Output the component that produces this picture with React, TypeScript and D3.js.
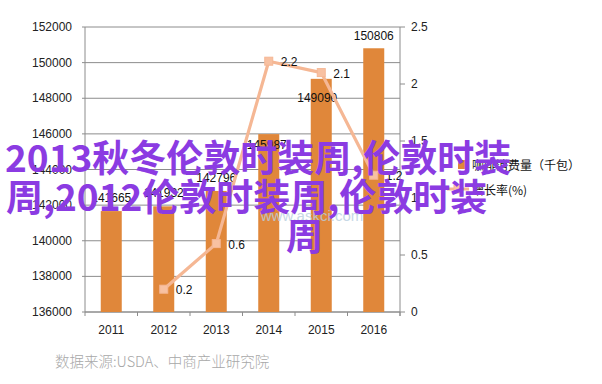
import React from 'react';
import * as d3 from 'd3';

const years = ['2011', '2012', '2013', '2014', '2015', '2016'];
const consumption = [141665, 141932, 142796, 145987, 149090, 150806];
const growth: (number | null)[] = [null, 0.2, 0.6, 2.2, 2.1, 1.2];
const leftTicks = [136000, 138000, 140000, 142000, 144000, 146000, 148000, 150000, 152000];
const rightTicks = [0, 0.5, 1, 1.5, 2, 2.5];
const legendLabels = ['咖啡消费量（千包）', '增长率(%)'];
const sourceText = '数据来源:USDA、中商产业研究院';
const watermarkText = 'www.askci.com';
const overlayLines = ['2013秋冬伦敦时装周,伦敦时装', '周,2012伦敦时装周,伦敦时装', '周'];

const W = 602;
const H = 384;
const plot = { left: 85, right: 400, top: 27, bottom: 312 };
const BAR = '#E0873A';
const LINE = '#F5B794';
const MARK = '#F8C1A2';
const GRID = '#8c8c8c';
const FONT = '"Liberation Sans", Arial, sans-serif';
const CJK = '"Noto Sans CJK SC", sans-serif';

export default function App() {
  const x = d3.scaleBand<string>().domain(years).range([plot.left, plot.right]).paddingInner(0.6).paddingOuter(0.3);
  const step = x.step();
  const yL = d3.scaleLinear().domain([136000, 152000]).range([plot.bottom, plot.top]);
  const yR = d3.scaleLinear().domain([0, 2.5]).range([plot.bottom, plot.top]);
  const cx = (y: string) => (x(y) as number) + x.bandwidth() / 2;

  const linePts = years
    .map((yr, i) => ({ yr, v: growth[i] }))
    .filter((d) => d.v !== null) as { yr: string; v: number }[];
  const lineGen = d3
    .line<{ yr: string; v: number }>()
    .x((d) => cx(d.yr))
    .y((d) => yR(d.v));

  // per-label vertical placement relative to bar top (label centre)
  const labelDy = [-13, -13, -13, 11, 19, -12];
  const labelDx = [0, 0, 0, -2, -4, 0];

  const boundaries = d3.range(years.length + 1).map((i) => plot.left + i * step);

  return (
    <svg width={W} height={H} style={{ position: 'absolute', left: 0, top: 0, background: '#fff' }}>
      <rect x={0} y={0} width={W} height={H} fill="#fff" />
      {/* gridlines */}
      {leftTicks.map((t) => (
        <line key={t} x1={plot.left - 3} x2={plot.right} y1={yL(t)} y2={yL(t)} stroke={GRID} strokeWidth={1} />
      ))}
      {/* axes */}
      <line x1={plot.left} x2={plot.left} y1={plot.top} y2={plot.bottom} stroke={GRID} />
      <line x1={plot.right} x2={plot.right} y1={plot.top} y2={plot.bottom + 4} stroke={GRID} />
      <line x1={plot.left} x2={plot.right} y1={plot.bottom} y2={plot.bottom} stroke={GRID} />
      {boundaries.map((b, i) => (
        <line key={i} x1={b} x2={b} y1={plot.bottom} y2={plot.bottom + 4} stroke={GRID} />
      ))}
      {rightTicks.map((t) => (
        <line key={t} x1={plot.right} x2={plot.right + 5} y1={yR(t)} y2={yR(t)} stroke={GRID} />
      ))}
      {/* left tick labels */}
      {leftTicks.map((t) => (
        <text key={t} x={72} y={yL(t)} textAnchor="end" dominantBaseline="central" fontFamily={FONT} fontSize={12} fill="#222">
          {t}
        </text>
      ))}
      {rightTicks.map((t) => (
        <text key={t} x={411} y={yR(t)} textAnchor="start" dominantBaseline="central" fontFamily={FONT} fontSize={12} fill="#222">
          {String(t)}
        </text>
      ))}
      {years.map((yr) => (
        <text key={yr} x={cx(yr)} y={334} textAnchor="middle" fontFamily={FONT} fontSize={12} fill="#222">
          {yr}
        </text>
      ))}
      {/* bars */}
      {years.map((yr, i) => (
        <rect key={yr} x={x(yr)} y={yL(consumption[i])} width={x.bandwidth()} height={plot.bottom - yL(consumption[i])} fill={BAR} />
      ))}
      {/* watermark */}
      <text x={312} y={221} textAnchor="middle" fontFamily={FONT} fontSize={15} fill="#b9cfe0" opacity={0.8}>
        {watermarkText}
      </text>
      {/* bar labels */}
      {years.map((yr, i) => (
        <text
          key={yr}
          x={cx(yr) + labelDx[i]}
          y={yL(consumption[i]) + labelDy[i]}
          textAnchor="middle"
          dominantBaseline="central"
          fontFamily={FONT}
          fontSize={12}
          fill="#111"
        >
          {consumption[i]}
        </text>
      ))}
      {/* line */}
      <path d={lineGen(linePts) || ''} fill="none" stroke={LINE} strokeWidth={3.2} strokeLinejoin="round" />
      {linePts.map((d) => (
        <rect key={d.yr} x={cx(d.yr) - 4} y={yR(d.v) - 4} width={8} height={8} fill={MARK} stroke={LINE} strokeWidth={1} />
      ))}
      {linePts.map((d) => (
        <text key={d.yr} x={cx(d.yr) + 12} y={yR(d.v) + 1} dominantBaseline="central" fontFamily={FONT} fontSize={12} fill="#111">
          {String(d.v)}
        </text>
      ))}
      {/* legend */}
      <rect x={458} y={160} width={10} height={9} fill={BAR} />
      <text x={472} y={164} dominantBaseline="central" fontFamily={CJK} fontSize={12} fill="#111">
        {legendLabels[0]}
      </text>
      <line x1={447} x2={469} y1={189} y2={189} stroke={LINE} strokeWidth={3} />
      <rect x={454} y={185} width={8} height={8} fill={MARK} stroke={LINE} />
      <text x={472} y={189} dominantBaseline="central" fontFamily={CJK} fontSize={12} fill="#111">
        {legendLabels[1]}
      </text>
      {/* source */}
      <text x={55} y={360} dominantBaseline="central" fontFamily={CJK} fontWeight={300} fontSize={14.5} fill="#a8a8a8">
        {sourceText}
      </text>
      {/* overlay title */}
      <text x={5} y={172} fontFamily={CJK} fontWeight={700} fontSize={37} fill="#8B3BE2">
        {overlayLines[0]}
      </text>
      <text x={6} y={211} fontFamily={CJK} fontWeight={700} fontSize={37} fill="#8B3BE2">
        {overlayLines[1]}
      </text>
      <text x={286} y={250} fontFamily={CJK} fontWeight={700} fontSize={37} fill="#8B3BE2">
        {overlayLines[2]}
      </text>
    </svg>
  );
}
